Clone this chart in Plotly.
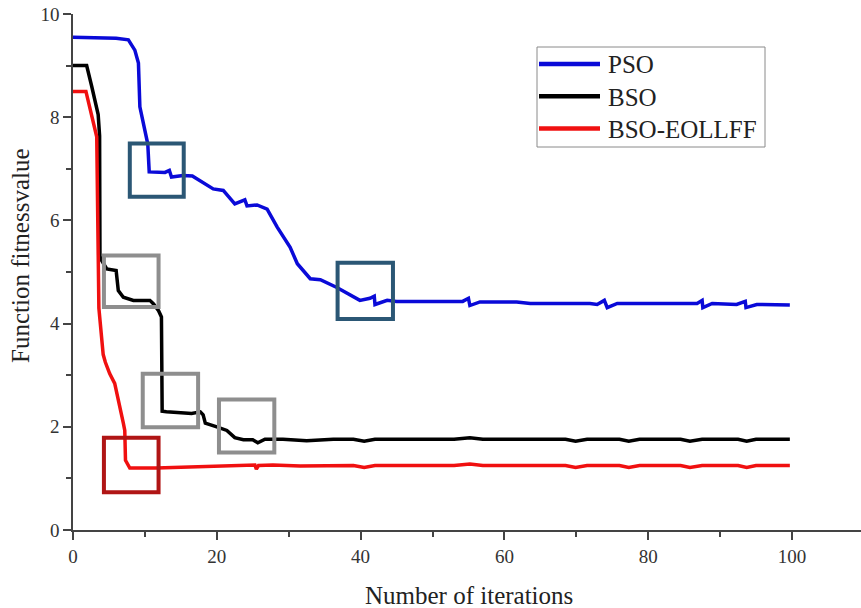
import plotly.graph_objects as go

# ---------------- data ----------------
series_names = ["PSO", "BSO", "BSO-EOLLFF"]
series_colors = ["#0a0ad8", "#000000", "#f01010"]

pso_x = [0, 3, 6, 7.7, 8.6, 9.1, 9.3, 10.4, 10.6, 12.8, 13.4, 13.7, 15.3, 16.6, 17.7, 19.5,
         20.9, 22.5, 23.9, 24.2, 25.6, 27.0, 28.4, 30.2, 31.2, 33.0, 34.4, 36.7, 39.9, 41.3,
         41.9, 42.0, 43.7, 45, 50, 54.2, 55.0, 55.2, 56.6, 61.7, 63.6, 71.9, 72.9, 73.9, 74.3,
         75.7, 80.3, 86.8, 87.5, 87.6, 88.9, 92.3, 93.5, 93.6, 95.1, 99.7]
pso_y = [9.55, 9.54, 9.53, 9.50, 9.30, 9.05, 8.20, 7.48, 6.94, 6.93, 6.97, 6.84, 6.87, 6.86,
         6.77, 6.61, 6.58, 6.32, 6.40, 6.28, 6.30, 6.22, 5.87, 5.48, 5.16, 4.87, 4.85, 4.70,
         4.45, 4.49, 4.53, 4.37, 4.45, 4.43, 4.43, 4.43, 4.49, 4.35, 4.42, 4.42, 4.39, 4.39,
         4.37, 4.45, 4.31, 4.39, 4.39, 4.39, 4.45, 4.31, 4.39, 4.37, 4.43, 4.31, 4.37, 4.36]

bso_x = [0, 1.9, 2.6, 3.5, 3.7, 3.75, 4.0, 4.3, 4.7, 6.0, 6.3, 7.0, 8.4, 10.7, 11.2, 11.9,
         12.3, 12.4, 13.0, 16.5, 17.7, 18.1, 18.4, 20.0, 21.4, 22.5, 23.7, 25.0, 25.7, 26.7,
         29.2, 32.5, 36.2, 39.0, 40.5, 42.0, 45, 53, 55.2, 57, 62, 68.5, 69.9, 71.5, 76,
         77.3, 78.8, 84.5, 85.8, 87.5, 92.5, 93.7, 95, 99.7]
bso_y = [9.0, 9.0, 8.6, 8.05, 7.64, 5.30, 5.22, 5.15, 5.06, 5.03, 4.64, 4.51, 4.45, 4.45,
         4.38, 4.25, 4.13, 2.30, 2.29, 2.26, 2.29, 2.23, 2.07, 2.00, 1.93, 1.79, 1.75, 1.75,
         1.69, 1.76, 1.76, 1.73, 1.76, 1.76, 1.72, 1.76, 1.76, 1.76, 1.79, 1.76, 1.76, 1.76,
         1.72, 1.76, 1.76, 1.72, 1.76, 1.76, 1.72, 1.76, 1.76, 1.72, 1.76, 1.76]

eol_x = [0, 1.8, 3.3, 3.4, 3.45, 3.6, 4.2, 4.5, 5.1, 5.8, 7.0, 7.2, 7.3, 7.9, 11.6, 17.2,
         22.3, 25.3, 25.5, 25.8, 27.8, 31.6, 39.0, 40.5, 42.0, 45, 53, 55.2, 57, 62, 68.5,
         69.9, 71.5, 76, 77.3, 78.8, 84.5, 85.8, 87.5, 92.5, 93.7, 95, 99.7]
eol_y = [8.5, 8.5, 7.62, 6.0, 5.0, 4.3, 3.4, 3.25, 3.03, 2.84, 2.07, 1.93, 1.35, 1.20, 1.20,
         1.22, 1.24, 1.26, 1.18, 1.25, 1.26, 1.24, 1.25, 1.21, 1.25, 1.25, 1.25, 1.28, 1.25,
         1.25, 1.25, 1.21, 1.25, 1.25, 1.21, 1.25, 1.25, 1.21, 1.25, 1.25, 1.21, 1.25, 1.25]

# highlight boxes: (x0, x1, y0, y1, colour)
boxes = [
    (7.9, 15.4, 6.46, 7.49, "#2b5775"),
    (36.8, 44.5, 4.09, 5.18, "#2b5775"),
    (4.3, 11.9, 4.32, 5.32, "#8e8e8e"),
    (9.7, 17.4, 1.99, 3.03, "#8e8e8e"),
    (20.3, 28.0, 1.50, 2.53, "#8e8e8e"),
    (4.3, 11.9, 0.73, 1.79, "#b01515"),
]

x_ticks = [0, 20, 40, 60, 80, 100]
y_ticks = [0, 2, 4, 6, 8, 10]
x_title = "Number of iterations"
y_title = "Function fitnessvalue"

# ---------------- layout geometry ----------------
W, H = 861, 608
PLOT_L, PLOT_R, PLOT_T, PLOT_B = 73, 861, 14, 530   # screen pixels of plot area
ML, MT = PLOT_L, PLOT_T
PW, PH = PLOT_R - PLOT_L, PLOT_B - PLOT_T
MR = W - ML - PW
MB = H - MT - PH
FONT = "Liberation Serif, Times New Roman, serif"


def px2paper(px, py):
    return (px - PLOT_L) / PW, (PLOT_B - py) / PH


fig = go.Figure()
for name, color, xs, ys in zip(series_names, series_colors,
                               [pso_x, bso_x, eol_x], [pso_y, bso_y, eol_y]):
    fig.add_trace(go.Scatter(x=xs, y=ys, mode="lines", name=name,
                             line=dict(color=color, width=3.5), showlegend=False))

shapes = []
for x0, x1, y0, y1, c in boxes:
    shapes.append(dict(type="rect", xref="x", yref="y", x0=x0, x1=x1, y0=y0, y1=y1,
                       line=dict(color=c, width=4), fillcolor="rgba(0,0,0,0)"))

# manual legend
lx0, ly0 = px2paper(537, 47)
lx1, ly1 = px2paper(765, 147)
shapes.append(dict(type="rect", xref="paper", yref="paper", x0=lx0, x1=lx1, y0=ly1, y1=ly0,
                   line=dict(color="#8a8a8a", width=1), fillcolor="white"))
annotations = []
for i, (name, color) in enumerate(zip(series_names, series_colors)):
    py = 64 + i * 32.2
    a0, yy = px2paper(539, py)
    a1, _ = px2paper(600, py)
    shapes.append(dict(type="line", xref="paper", yref="paper", x0=a0, x1=a1, y0=yy, y1=yy,
                       line=dict(color=color, width=4.5)))
    tx, ty = px2paper(606, py + 1)
    annotations.append(dict(x=tx, y=ty, xref="paper", yref="paper", text=name,
                            showarrow=False, xanchor="left", yanchor="middle",
                            font=dict(family=FONT, size=25, color="#222222")))

# axis titles
ax, ay = px2paper(469, 595)
annotations.append(dict(x=ax, y=ay, xref="paper", yref="paper", text=x_title, showarrow=False,
                        xanchor="center", yanchor="middle",
                        font=dict(family=FONT, size=25, color="#222222")))
bx, by = px2paper(21, 256)
annotations.append(dict(x=bx, y=by, xref="paper", yref="paper", text=y_title, showarrow=False,
                        xanchor="center", yanchor="middle", textangle=-90,
                        font=dict(family=FONT, size=25, color="#222222")))

axis_common = dict(showline=True, linecolor="#444444", linewidth=1.6, showgrid=False,
                   zeroline=False, ticks="outside", ticklen=8, tickwidth=1.6,
                   tickcolor="#444444", automargin=False, ticklabeloverflow="allow",
                   tickfont=dict(family=FONT, size=19, color="#333333"))

fig.update_layout(
    width=W, height=H,
    margin=dict(l=ML, r=MR, t=MT, b=MB, pad=0),
    paper_bgcolor="white", plot_bgcolor="white",
    xaxis=dict(range=[0, PW / 7.19], tickvals=x_ticks, ticktext=[str(v) for v in x_ticks],
               minor=dict(dtick=10, tick0=0, ticks="outside", ticklen=5, tickwidth=1.6,
                          tickcolor="#444444"),
               **axis_common),
    yaxis=dict(range=[0, 10], tickvals=y_ticks, ticktext=[str(v) for v in y_ticks],
               minor=dict(dtick=1, tick0=0, ticks="outside", ticklen=5, tickwidth=1.6,
                          tickcolor="#444444"),
               **axis_common),
    shapes=shapes,
    annotations=annotations,
    showlegend=False,
)

# remove the default page margin so the figure sits at the window's top-left corner
fig.write_html("out.html", config={"displayModeBar": False},
               post_script="document.body.style.margin='0';document.body.style.overflow='hidden';")
